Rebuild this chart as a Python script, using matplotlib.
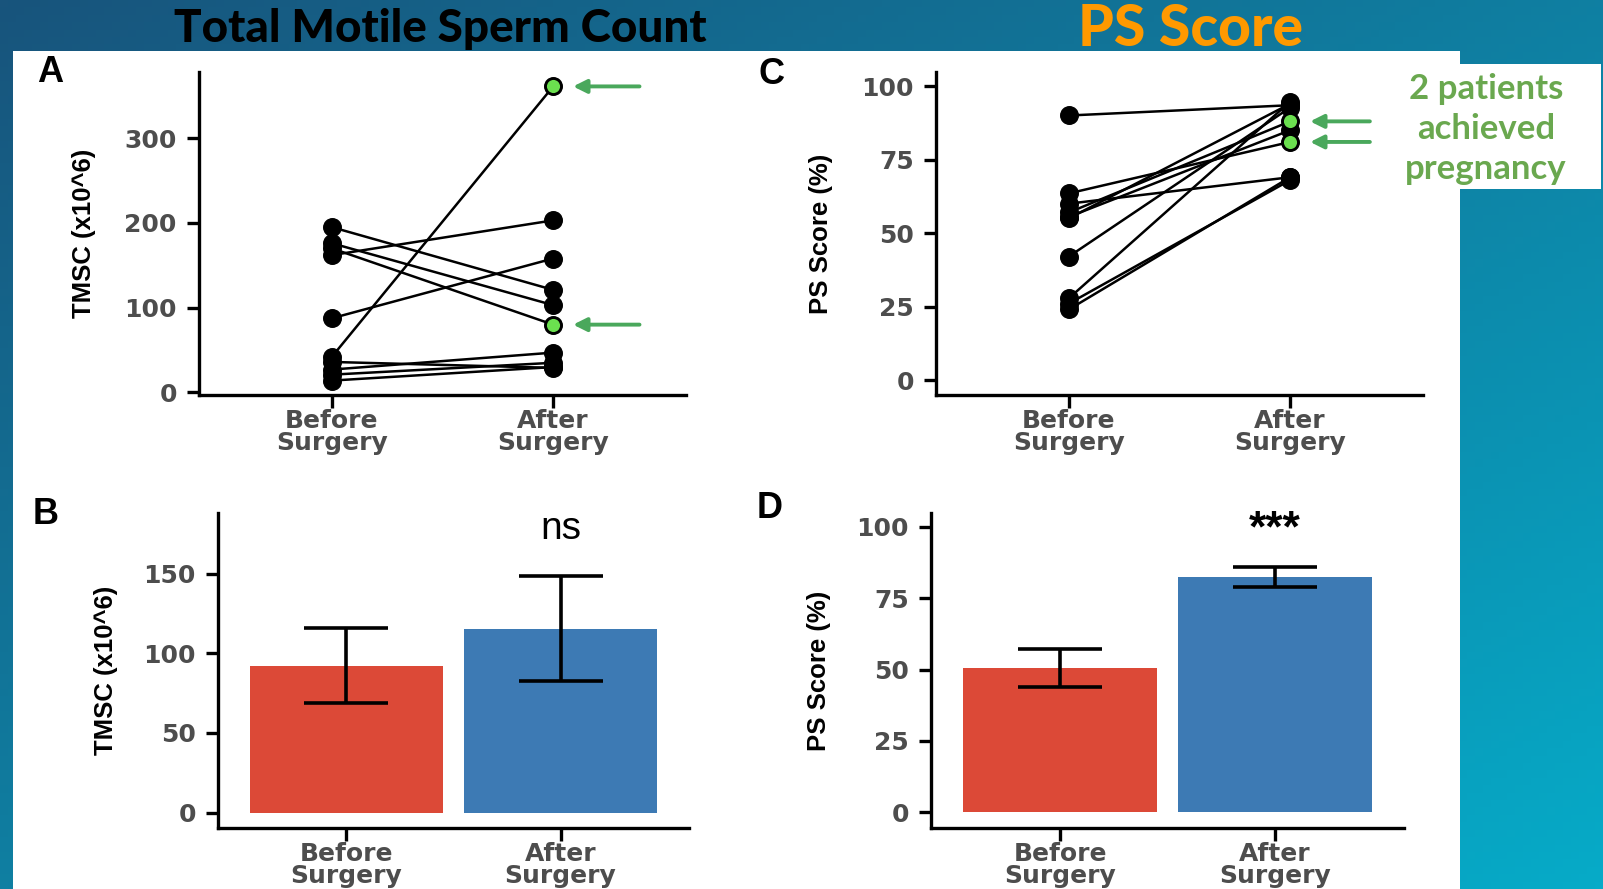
import matplotlib
matplotlib.use("Agg")
import matplotlib.pyplot as plt
from matplotlib.patches import Rectangle
import numpy as np

# ---- data ----
categories = ['Before\nSurgery', 'After\nSurgery']

# panel A: paired TMSC values (x10^6) per patient
tmsc_before = [195, 176, 170, 162, 87.5, 42, 36, 27, 21, 14]
tmsc_after = [121, 103, 80, 203, 158, 361, 29, 47, 35, 30]
tmsc_pregnant = [2, 5]          # index of patients who achieved pregnancy

# panel C: paired PS score (%) per patient
ps_before = [90, 63.5, 60, 57, 55.5, 42, 27.8, 26, 24, 55]
ps_after = [93.5, 81, 69, 88, 85, 92.7, 94.7, 68, 69, 94]
ps_pregnant = [1, 3]

# panels B and D: mean +/- SEM
tmsc_mean = [92.2, 115.5]
tmsc_sem = [23.6, 32.8]
ps_mean = [50.6, 82.4]
ps_sem = [6.6, 3.4]
sig_labels = ['ns', '***']

W, H = 1603, 889
RED = '#dc4937'
BLUE = '#3d7ab4'
GREEN_PT = '#6be04f'
GREEN_ARROW = '#4aa85c'
GREEN_TEXT = '#6aa84f'
TICK_GREY = '#4d4d4d'

plt.rcParams['font.family'] = 'DejaVu Sans'
plt.rcParams['font.weight'] = 'bold'

fig = plt.figure(figsize=(W / 100, H / 100), dpi=100)


def fx(x):
    return x / W


def fy(y):
    return 1 - y / H


def box(left, top, right, bottom):
    return [fx(left), fy(bottom), (right - left) / W, (bottom - top) / H]


# slide background: diagonal teal gradient
bg = fig.add_axes([0, 0, 1, 1], zorder=-5)
xs = np.linspace(0, 1, 200)
ys = np.linspace(0, 1, 120)
gx, gy = np.meshgrid(xs, ys)
t = (gx + gy) / 2
c0 = np.array([24, 84, 124]) / 255
c1 = np.array([6, 171, 200]) / 255
img = c0[None, None, :] * (1 - t[..., None]) + c1[None, None, :] * t[..., None]
bg.imshow(img, extent=[0, 1, 0, 1], aspect='auto', origin='upper')
bg.axis('off')

# white figure panel
fig.patches.append(Rectangle((fx(12.5), 0), (1460 - 12.5) / W, (H - 51) / H,
                             transform=fig.transFigure, facecolor='white',
                             edgecolor='none', zorder=-4))

# slide titles
fig.text(fx(440), fy(29), 'Total Motile Sperm Count', ha='center', va='center',
         fontsize=33, fontweight='black', family=['Lato', 'DejaVu Sans'], color='black')
fig.text(fx(1191), fy(29), 'PS Score', ha='center', va='center',
         fontsize=41, fontweight='black', family=['Lato', 'DejaVu Sans'], color='#ff9900')

# annotation box
fig.patches.append(Rectangle((fx(1394), fy(189)), (1601 - 1394) / W, (189 - 64) / H,
                             transform=fig.transFigure, facecolor='white',
                             edgecolor='none', zorder=2))
fig.text(fx(1486), fy(129), '2 patients\nachieved\npregnancy', ha='center', va='center',
         fontsize=25, fontweight='bold', family=['Lato', 'DejaVu Sans'],
         color=GREEN_TEXT, linespacing=1.3, zorder=3)


def style_axes(ax, ylabel, ylim, yticks):
    ax.set_facecolor('none')
    for s in ['top', 'right']:
        ax.spines[s].set_visible(False)
    for s in ['left', 'bottom']:
        ax.spines[s].set_linewidth(2.4)
        ax.spines[s].set_color('black')
    ax.set_xlim(0.4, 2.6)
    ax.set_ylim(*ylim)
    ax.set_xticks([1, 2])
    ax.set_xticklabels(categories)
    ax.set_yticks(yticks)
    ax.tick_params(axis='both', length=9, width=2.4, color='black',
                   labelsize=18, labelcolor=TICK_GREY, pad=7)
    ax.tick_params(axis='x', pad=1)
    for lbl in ax.get_xticklabels():
        lbl.set_linespacing(0.9)
    ax.set_ylabel(ylabel, fontsize=18.5, fontweight='bold',
                  family=['Liberation Sans', 'DejaVu Sans'], color='black')
    ax.yaxis.set_label_coords(-0.212, 0.5)


def paired(ax, before, after, pregnant, ylabel, ylim, yticks, arrow_tail):
    for b, a in zip(before, after):
        ax.plot([1, 2], [b, a], color='black', lw=1.8, zorder=2)
    ax.scatter([1] * len(before), before, s=160, color='black', zorder=3)
    ax.scatter([2] * len(after), after, s=160, color='black', zorder=3)
    preg_vals = [after[i] for i in pregnant]
    ax.scatter([2] * len(preg_vals), preg_vals, s=120, color=GREEN_PT,
               edgecolors='black', linewidths=1.5, zorder=4)
    for v in preg_vals:
        ax.annotate('', xy=(2.09, v), xytext=(arrow_tail, v),
                    arrowprops=dict(arrowstyle='-|>', color=GREEN_ARROW, lw=2.8,
                                    mutation_scale=20, shrinkA=0, shrinkB=0),
                    annotation_clip=False)
    style_axes(ax, ylabel, ylim, yticks)


def bars(ax, means, sems, label, ylabel, ylim, yticks, label_y, label_size, label_weight):
    ax.bar([1, 2], means, width=0.9, color=[RED, BLUE], zorder=2)
    ax.errorbar([1, 2], means, yerr=sems, fmt='none', ecolor='black',
                elinewidth=2.6, capsize=30, capthick=2.6, zorder=3)
    ax.text(2, label_y, label, ha='center', va='center', fontsize=label_size,
            fontweight=label_weight, family=['Liberation Sans', 'DejaVu Sans'], color='black')
    style_axes(ax, ylabel, ylim, yticks)


axA = fig.add_axes(box(199, 72, 686, 395))
paired(axA, tmsc_before, tmsc_after, tmsc_pregnant, 'TMSC (x10^6)',
       (-3, 378), [0, 100, 200, 300], 2.39)

axC = fig.add_axes(box(936, 72, 1423, 395))
paired(axC, ps_before, ps_after, ps_pregnant, 'PS Score (%)',
       (-5.1, 104.8), [0, 25, 50, 75, 100], 2.36)

axB = fig.add_axes(box(218, 513, 689, 828))
bars(axB, tmsc_mean, tmsc_sem, sig_labels[0], 'TMSC (x10^6)',
     (-9.7, 188), [0, 50, 100, 150], 178, 28, 'normal')

axD = fig.add_axes(box(931, 513, 1404, 828))
bars(axD, ps_mean, ps_sem, sig_labels[1], 'PS Score (%)',
     (-5.5, 104.8), [0, 25, 50, 75, 100], 99, 32, 'bold')

# panel letters
for letter, (x, y) in zip('ABCD', [(50, 72), (46, 515), (772, 74), (770, 509)]):
    fig.text(fx(x), fy(y), letter, ha='center', va='center', fontsize=26,
             fontweight='bold', family=['Liberation Sans', 'DejaVu Sans'], color='black')

fig.savefig('out.png', dpi=100)
